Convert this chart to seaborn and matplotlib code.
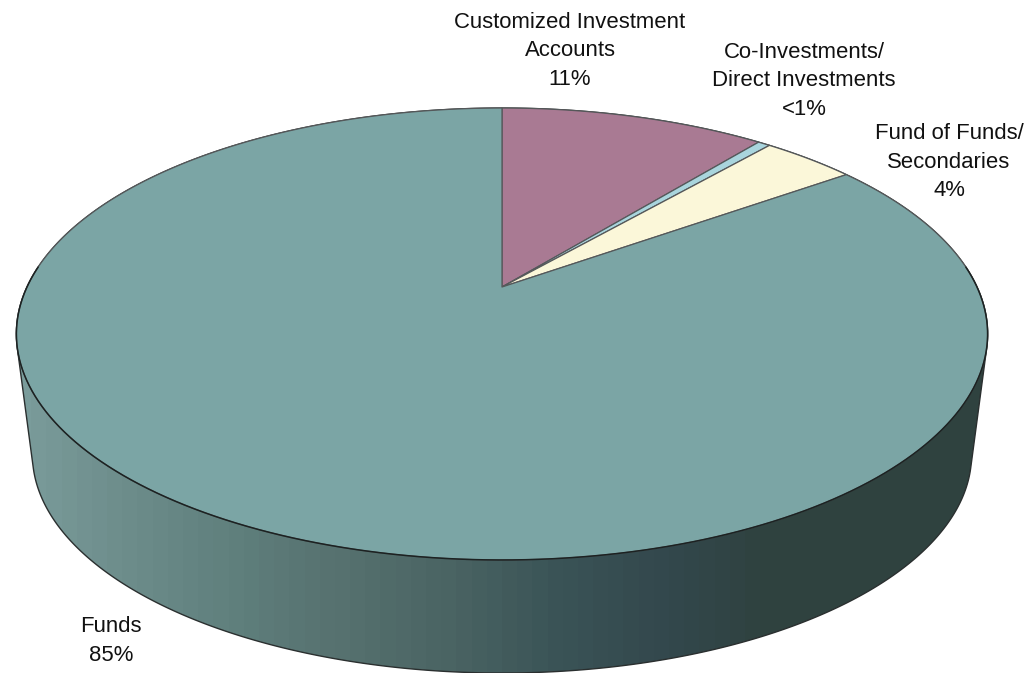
import numpy as np
import matplotlib
matplotlib.use('Agg')
import matplotlib.pyplot as plt
from matplotlib.colors import ListedColormap
from matplotlib.patches import Polygon
import seaborn as sns

categories = ['Customized Investment\nAccounts', 'Co-Investments/\nDirect Investments',
              'Fund of Funds/\nSecondaries', 'Funds']
shares = [10.8, 0.5, 3.8, 84.9]
share_labels = ['11%', '<1%', '4%', '85%']
slice_colors = ['#a97a93', '#a9d5dd', '#fbf7d9', '#7ba5a5']
label_xy = [(570, 51), (804, 81), (949, 162), (111, 641)]

# side wall shading, left to right
wall_colors = ['#7a9c9b', '#6c8c8a', '#5f7f7c', '#56716f', '#4a6463', '#3b5457',
               '#33484d', '#2f423f', '#2f423f', '#2f423f']

sns.set_theme(style='white')
plt.rcParams['font.family'] = ['Liberation Sans', 'DejaVu Sans']

# disc projection, in pixels
CX, APEX_Y = 502, 287
K, PERSP, A = 475, 0.208, -156.5
BOTTOM_SCALE, BOTTOM_Y = 0.967, 454.5
FACE_MID = 334


def project(theta):
    # theta runs clockwise from the top of the disc
    w = PERSP * np.cos(theta) + 1
    return CX + K * np.sin(theta) / w, (A * np.cos(theta) + APEX_Y) / w


def hull(points):
    pts = sorted(map(tuple, points))
    def half(seq):
        out = []
        for p in seq:
            while len(out) > 1 and np.cross(np.subtract(out[-1], out[-2]), np.subtract(p, out[-1])) <= 0:
                out.pop()
            out.append(p)
        return out[:-1]
    return np.array(half(pts) + half(pts[::-1]))


fig = plt.figure(figsize=(10.24, 6.73), dpi=100)
ax = fig.add_axes([0, 0, 1, 1])
ax.set_xlim(0, 1024)
ax.set_ylim(673, 0)
ax.axis('off')

full = np.linspace(0, 2 * np.pi, 721)
top_x, top_y = project(full)
bot_x = CX + BOTTOM_SCALE * (top_x - CX)
bot_y = BOTTOM_Y + BOTTOM_SCALE * (top_y - FACE_MID)

# side wall
outline = hull(np.vstack([np.c_[top_x, top_y], np.c_[bot_x, bot_y]]))
wall_cmap = ListedColormap(sns.blend_palette(wall_colors, 64))
wall = ax.imshow(np.linspace(0, 1, 64)[None, :], cmap=wall_cmap, aspect='auto',
                 extent=(16, 988, 673, 100), zorder=1)
wall_patch = Polygon(outline, closed=True, fill=False, edgecolor='#2a2f2f', lw=1.0, zorder=2)
ax.add_patch(wall_patch)
wall.set_clip_path(wall_patch)
ax.set_xlim(0, 1024)
ax.set_ylim(673, 0)

# top face slices
edges = np.cumsum([0] + shares) / sum(shares) * 2 * np.pi
for start, end, color in zip(edges[:-1], edges[1:], slice_colors):
    th = np.linspace(start, end, max(3, int((end - start) * 150)))
    x, y = project(th)
    ax.fill(np.r_[CX, x], np.r_[APEX_Y, y], facecolor=color, edgecolor='#55585a', lw=0.9,
            joinstyle='round', zorder=3)

# the front rim is darker than the back one
front = np.linspace(np.pi * 0.47, np.pi * 1.53, 300)
ax.plot(*project(front), color='#1c2222', lw=1.1, zorder=4)

for (x, y), cat, lab in zip(label_xy, categories, share_labels):
    ax.text(x, y, cat + '\n' + lab, ha='center', va='center', fontsize=15.9, color='#111111',
            linespacing=1.46, zorder=5)

fig.savefig('out.png', dpi=100)
